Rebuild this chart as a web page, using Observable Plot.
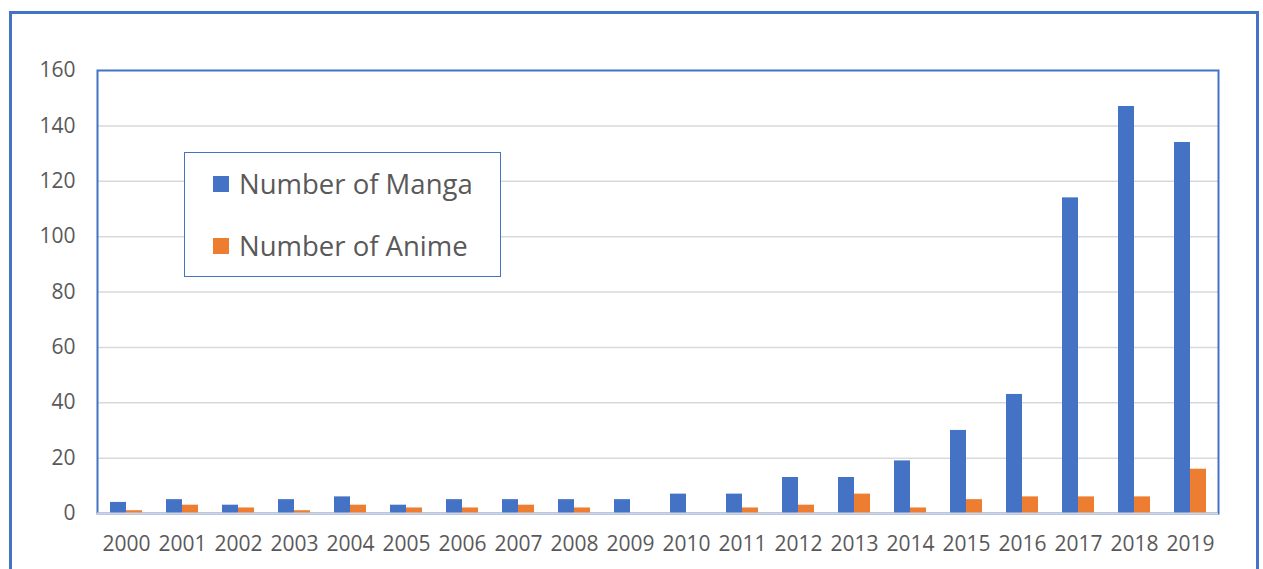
<!DOCTYPE html>
<html>
<head>
<meta charset="utf-8">
<script src="https://cdn.jsdelivr.net/npm/d3@7"></script>
<script src="https://cdn.jsdelivr.net/npm/@observablehq/plot@0.6"></script>
<style>
  html, body { margin: 0; padding: 0; background: #fff; overflow: hidden; }
  #wrap { position: relative; width: 1263px; height: 569px; }
  #outer { position: absolute; left: 9px; top: 11px; width: 1250px; height: 600px;
           border: 3px solid #4472C4; box-sizing: border-box; }
  #legend { position: absolute; left: 184px; top: 152px; width: 317px; height: 125px;
            border: 1.5px solid #4472C4; background: #fff; box-sizing: border-box;
            font-family: "Open Sans", sans-serif; font-size: 27.5px; color: #595959; }
  .item { position: absolute; left: 28px; display: flex; align-items: center; }
  .sw { width: 16px; height: 16px; margin-right: 10px; }
  svg { position: absolute; left: 0; top: 0; }
</style>
</head>
<body>
<div id="wrap">
  <div id="outer"></div>
</div>
<script>
const years = ["2000","2001","2002","2003","2004","2005","2006","2007","2008","2009",
               "2010","2011","2012","2013","2014","2015","2016","2017","2018","2019"];
const manga = [4,5,3,5,6,3,5,5,5,5,7,7,13,13,19,30,43,114,147,134];
const anime = [1,3,2,1,3,2,2,3,2,0,0,2,3,7,2,5,6,6,6,16];
const yTicks = [0,20,40,60,80,100,120,140,160];
const seriesNames = ["Number of Manga", "Number of Anime"];
const colors = ["#4472C4", "#ED7D31"];

const mangaData = years.map((y, i) => ({year: y, value: manga[i]}));
const animeData = years.map((y, i) => ({year: y, value: anime[i]}));

const chart = Plot.plot({
  width: 1263,
  height: 569,
  marginLeft: 97,
  marginRight: 45,
  marginTop: 70,
  marginBottom: 56,
  style: {fontFamily: "Open Sans, sans-serif", fontSize: "21px", color: "#595959", background: "transparent"},
  x: {domain: years, paddingInner: 0.43, paddingOuter: 0.215, label: null, tickSize: 0, tickPadding: 23},
  y: {domain: [0, 160], ticks: yTicks, label: null, tickSize: 0, tickPadding: 22},
  marks: [
    Plot.ruleY(yTicks.filter(d => d > 0 && d < 160), {stroke: "#d9d9d9", strokeWidth: 1.5}),
    Plot.frame({stroke: "#4472C4", strokeWidth: 2}),
    Plot.barY(mangaData, {x: "year", y: "value", fill: colors[0], insetRight: 16}),
    Plot.barY(animeData, {x: "year", y: "value", fill: colors[1], insetLeft: 16}),
    Plot.ruleY([0], {stroke: "#cfd5e3", strokeWidth: 2})
  ]
});
document.getElementById("wrap").appendChild(chart);

const legend = document.createElement("div");
legend.id = "legend";
seriesNames.forEach((name, i) => {
  const item = document.createElement("div");
  item.className = "item";
  item.style.top = (i === 0 ? 12 : 74) + "px";
  const sw = document.createElement("div");
  sw.className = "sw";
  sw.style.background = colors[i];
  const t = document.createElement("span");
  t.textContent = name;
  item.appendChild(sw);
  item.appendChild(t);
  legend.appendChild(item);
});
document.getElementById("wrap").appendChild(legend);
</script>
</body>
</html>
